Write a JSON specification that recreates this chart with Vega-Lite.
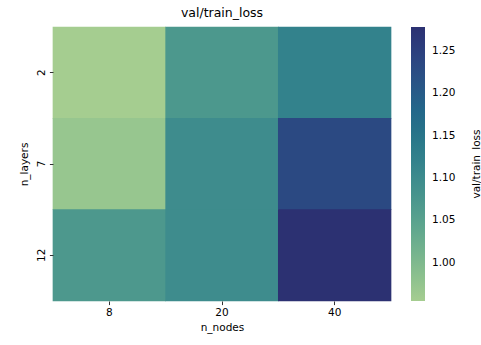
{
  "$schema": "https://vega.github.io/schema/vega-lite/v6.json",
  "width": 338,
  "height": 274,
  "autosize": "none",
  "padding": {"left": 53, "top": 27, "right": 90, "bottom": 44},
  "background": "white",
  "config": {
    "font": "DejaVu Sans",
    "view": {"stroke": null},
    "axis": {"labelFont": "DejaVu Sans", "titleFont": "DejaVu Sans", "labelFontSize": 10.5, "titleFontSize": 10.5, "labelColor": "#000", "titleColor": "#000", "titleFontWeight": "normal", "tickColor": "#333", "tickSize": 3.6, "tickWidth": 1, "domain": false, "labelPadding": 3}
  },
  "title": {"text": "val/train_loss", "fontSize": 12.5, "fontWeight": "normal", "font": "DejaVu Sans", "color": "#000", "offset": 7},
  "data": {
    "values": [
      {"n_layers": 2, "n_nodes": 8, "loss": 0.955},
      {"n_layers": 2, "n_nodes": 20, "loss": 1.072},
      {"n_layers": 2, "n_nodes": 40, "loss": 1.12},
      {"n_layers": 7, "n_nodes": 8, "loss": 0.971},
      {"n_layers": 7, "n_nodes": 20, "loss": 1.097},
      {"n_layers": 7, "n_nodes": 40, "loss": 1.233},
      {"n_layers": 12, "n_nodes": 8, "loss": 1.071},
      {"n_layers": 12, "n_nodes": 20, "loss": 1.097},
      {"n_layers": 12, "n_nodes": 40, "loss": 1.278}
    ]
  },
  "mark": {"type": "rect", "width": {"band": 1.006}, "height": {"band": 1.008}},
  "encoding": {
    "x": {"field": "n_nodes", "type": "ordinal", "sort": "ascending", "scale": {"paddingInner": 0, "paddingOuter": 0},
      "axis": {"title": "n_nodes", "labelAngle": 0, "titlePadding": 4}},
    "y": {"field": "n_layers", "type": "ordinal", "sort": "ascending", "scale": {"paddingInner": 0, "paddingOuter": 0},
      "axis": {"title": "n_layers", "labelAngle": -90, "labelAlign": "center", "labelBaseline": "bottom", "titlePadding": 7}},
    "color": {"field": "loss", "type": "quantitative",
      "scale": {"type": "linear", "domain": [0.955, 1.278], "interpolate": "rgb",
        "range": ["#a5cd90", "#89bf8e", "#6fb08e", "#58a18e", "#45928d", "#34838c", "#287689", "#23668a", "#2a5486", "#2c4280", "#2c3172"]},
      "legend": {"type": "gradient", "title": "val/train_loss", "orient": "right", "direction": "vertical", "gradientLength": 274, "gradientThickness": 14, "offset": 20,
        "values": [1.0, 1.05, 1.1, 1.15, 1.2, 1.25], "format": ".2f", "labelFontSize": 10.5, "labelFont": "DejaVu Sans", "labelColor": "#000", "labelOffset": 7,
        "titleOrient": "right", "titleFontSize": 10.5, "titleFont": "DejaVu Sans", "titleFontWeight": "normal", "titleColor": "#000", "titlePadding": 22, "titleAnchor": "middle", "titleBaseline": "middle", "gradientStrokeWidth": 0,
        "encode": {"title": {"update": {"angle": {"value": 270}}}}}}
  }
}
